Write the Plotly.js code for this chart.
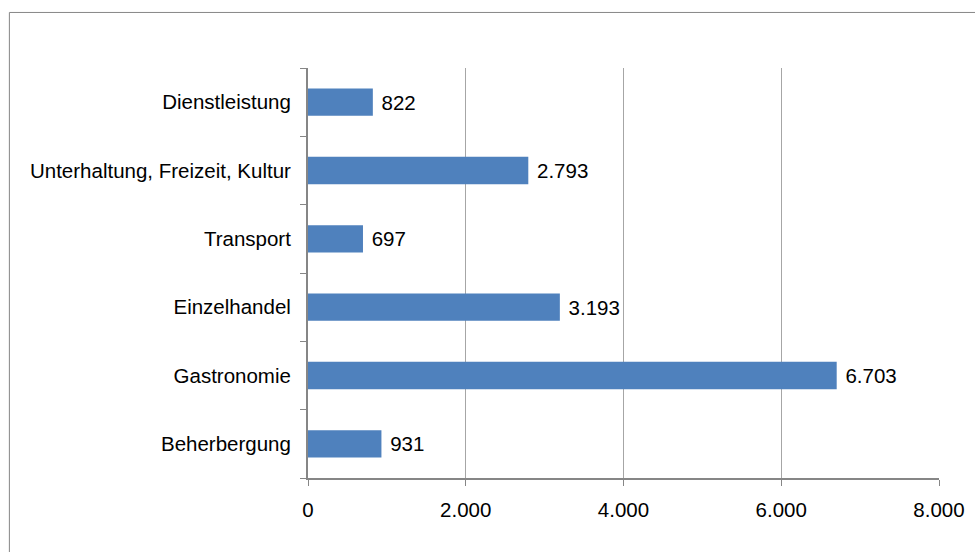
<!DOCTYPE html>
<html>
<head>
<meta charset="utf-8">
<script src="https://cdn.plot.ly/plotly-3.0.1.min.js"></script>
<style>html,body{margin:0;padding:0;background:#fff;overflow:hidden;}#chart{width:975px;height:552px;}</style>
</head>
<body>
<div id="chart"></div>
<script>
var categories = ['Beherbergung', 'Gastronomie', 'Einzelhandel', 'Transport', 'Unterhaltung, Freizeit, Kultur', 'Dienstleistung'];
var values = [931, 6703, 3193, 697, 2793, 822];
var xTicks = [0, 2000, 4000, 6000, 8000];

var L = 307.5, R = 939.3, T = 68, B = 477.7, W = 975, H = 552;
var pw = R - L, ph = B - T;
function px(x) { return (x - L) / pw; }
function py(y) { return (B - y) / ph; }

var font = {family: '"Liberation Sans", Arial, sans-serif', size: 20.5, color: '#000'};

var trace = {
  type: 'bar',
  orientation: 'h',
  y: categories,
  x: values,
  marker: {color: '#4f81bd', line: {width: 0}},
  texttemplate: '\u00a0%{x:,d}',
  textposition: 'outside',
  textfont: font,
  cliponaxis: false,
  hoverinfo: 'none'
};

var fx0 = px(8.5), fx1 = px(1300), fy0 = py(900), fy1 = py(12.5);

var layout = {
  width: W, height: H,
  margin: {l: L, r: W - R, t: T, b: H - B, pad: 0},
  paper_bgcolor: '#fff', plot_bgcolor: '#fff',
  separators: ',.',
  font: font,
  showlegend: false,
  bargap: 0.6,
  xaxis: {
    range: [0, 8000],
    tickvals: xTicks,
    tickformat: ',d',
    showgrid: true, gridcolor: '#a6a6a6', gridwidth: 1,
    zeroline: false,
    showline: true, linecolor: '#868686', linewidth: 2,
    ticks: 'outside', ticklen: 6, tickcolor: '#868686', tickwidth: 1,
    ticklabelstandoff: 6,
    tickfont: font,
    fixedrange: true
  },
  yaxis: {
    type: 'category',
    tickson: 'boundaries',
    showgrid: false,
    zeroline: false,
    showline: true, linecolor: '#868686', linewidth: 2,
    ticks: 'outside', ticklen: 6, tickcolor: '#868686', tickwidth: 1,
    ticklabelstandoff: 11,
    tickfont: font,
    fixedrange: true
  },
  shapes: [{
    type: 'path', xref: 'paper', yref: 'paper', layer: 'below',
    path: 'M' + fx0 + ',' + fy0 + ' L' + fx0 + ',' + fy1 + ' L' + fx1 + ',' + fy1,
    line: {color: '#868686', width: 1}, fillcolor: 'rgba(0,0,0,0)'
  }]
};

Plotly.newPlot('chart', [trace], layout, {staticPlot: true, displayModeBar: false});
</script>
</body>
</html>
